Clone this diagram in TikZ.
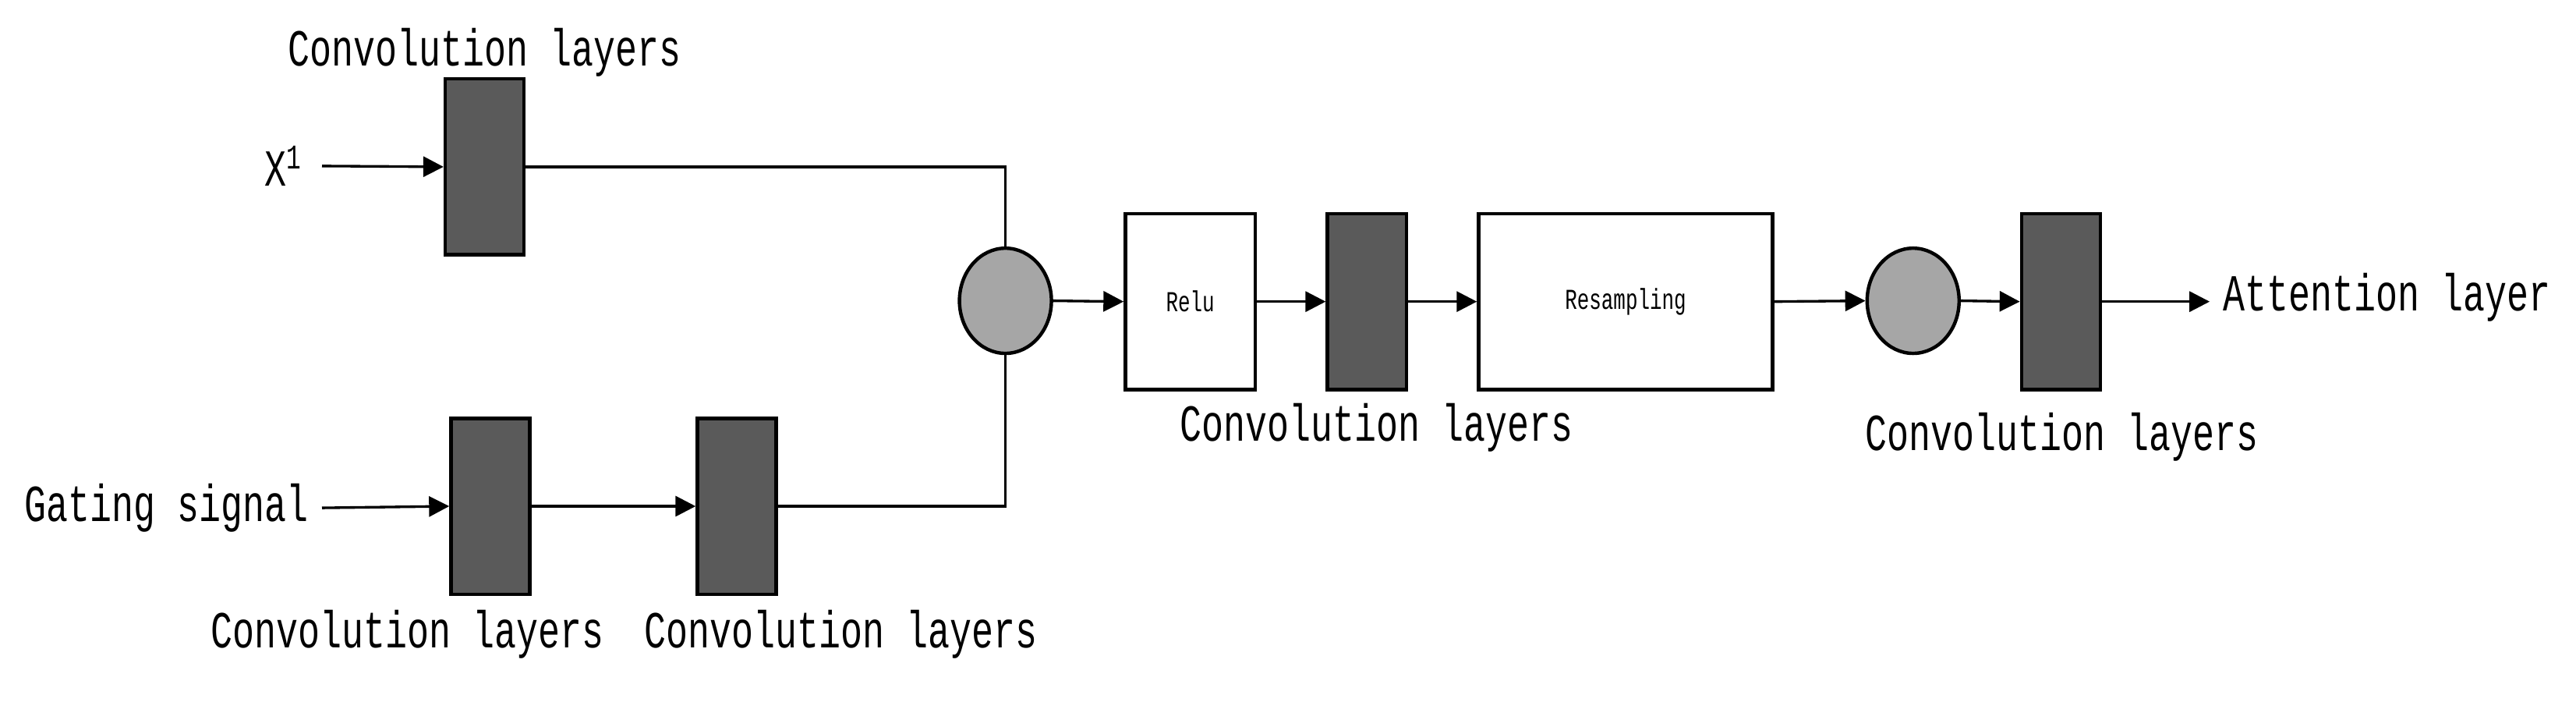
\documentclass[tikz,border=0pt]{standalone}
\usepackage{fontspec}
\setmainfont{Liberation Mono}[FakeStretch=0.7]
\usetikzlibrary{arrows.meta,shapes.geometric}
\definecolor{conv}{HTML}{5A5A5A}
\definecolor{dot}{HTML}{A6A6A6}
\begin{document}
\begin{tikzpicture}[x=0.02cm,y=-0.02cm,
  conv/.style={draw,line width=1.2pt,fill=conv,minimum width=0.96cm,minimum height=2.14cm,inner sep=0pt},
  wbox/.style={draw,line width=1.2pt,fill=white,inner sep=0pt,minimum height=2.14cm},
  dot/.style={draw,line width=1.2pt,fill=dot,ellipse,minimum width=1.12cm,minimum height=1.28cm,inner sep=0pt},
  lbl/.style={font=\fontsize{18}{20}\selectfont,inner sep=0pt},
  sm/.style={font=\fontsize{10}{12}\selectfont},
  ar/.style={line width=0.9pt,-{Triangle[length=7pt,width=7pt]}},
  ln/.style={line width=0.9pt}]
\useasboundingbox (0,0) rectangle (1568,427);
\node[conv] (c1) at (295,101.5) {};
\node[conv] (c2) at (298.5,308) {};
\node[conv] (c3) at (448.5,308) {};
\node[dot] (e1) at (612,183) {};
\node[wbox,minimum width=1.58cm,sm] (relu) at (724.5,183.5) {Relu};
\node[conv] (c4) at (832,183.5) {};
\node[wbox,minimum width=3.58cm,sm] (res) at (989.5,183.5) {Resampling};
\node[dot] (e2) at (1164.5,183) {};
\node[conv] (c5) at (1254.5,183.5) {};
\node[lbl] (tx) at (172,101) {X\raisebox{0.6ex}{\fontsize{12}{12}\selectfont 1}};
\node[lbl,anchor=east] (tg) at (188,309) {Gating signal};
\node[lbl,anchor=west] (ta) at (1353,181) {Attention layer};
\coordinate (sx) at (196,101);
\coordinate (sg) at (196,309);
\coordinate (ao) at (1345,183.5);
\node[lbl] (l1) at (295,32) {Convolution layers};
\node[lbl] (l2) at (248,386) {Convolution layers};
\node[lbl] (l3) at (512,386) {Convolution layers};
\node[lbl] (l4) at (838,260) {Convolution layers};
\node[lbl] (l5) at (1255,266) {Convolution layers};
\draw[ar] (sx) -- (c1.west);
\draw[ar] (sg) -- (c2.west);
\draw[ar] (c2.east) -- (c3.west);
\draw[ln] (c1.east) -| (e1.north);
\draw[ln] (c3.east) -| (e1.south);
\draw[ar] (e1.east) -- (relu.west);
\draw[ar] (relu.east) -- (c4.west);
\draw[ar] (c4.east) -- (res.west);
\draw[ar] (res.east) -- (e2.west);
\draw[ar] (e2.east) -- (c5.west);
\draw[ar] (c5.east) -- (ao);
\end{tikzpicture}
\end{document}
